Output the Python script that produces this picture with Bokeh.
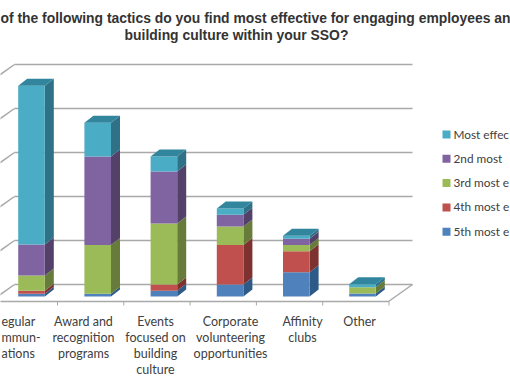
from bokeh.plotting import figure
from bokeh.models import Range1d
from bokeh.core.properties import value
from bokeh.embed import file_html
from bokeh.resources import INLINE

categories = ["egular\nmmun-\nations", "Award and\nrecognition\nprograms",
              "Events\nfocused on\nbuilding\nculture", "Corporate\nvolunteering\nopportunities",
              "Affinity\nclubs", "Other"]
fifth = [0.6, 0.6, 1.3, 2.7, 5.5, 0.7]
fourth = [0.7, 0.0, 1.4, 9.0, 4.8, 0.0]
third = [3.5, 11.1, 13.9, 4.2, 1.4, 1.4]
second = [7.0, 20.1, 11.8, 2.7, 1.4, 0.0]
most = [36.1, 7.7, 3.4, 1.4, 0.7, 0.7]
series_names = ["5th most e", "4th most e", "3rd most e", "2nd most", "Most effec"]
series_values = [fifth, fourth, third, second, most]
grid_values = [0, 10, 20, 30, 40, 50]
front_colors = ["#4F81BD", "#C0504D", "#9BBB59", "#8064A2", "#4BACC6"]
side_colors = ["#2E5A88", "#7E322F", "#677C3A", "#534169", "#2F7288"]
top_colors = ["#37658F", "#8E3A37", "#76903F", "#5F4A7A", "#31859C"]
title_lines = ["of the following tactics do you find most effective for engaging employees an",
               "building culture within your SSO?"]

W, H = 510, 382
PAD = 0
X0, XU = 31.0, 66.2      # page px of category 0, px per category
Y0, YU = 296.0, 4.4      # page px of value 0, px per value unit


def X(px):
    return (px - X0) / XU


def Y(py):
    return (Y0 - py) / YU


p = figure(width=W, height=H, output_backend="svg", toolbar_location=None,
           x_range=Range1d(X(PAD), X(PAD + W)), y_range=Range1d(Y(PAD + H), Y(PAD)),
           min_border=0, outline_line_color=None, background_fill_color="white")
p.axis.visible = False
p.grid.visible = False

GRID = "#A9A9A9"
back_off = (296 - 284) / YU
wall_dx = 24 / XU
wall_dy = 17 / YU
left_back = X(14)
right_back = X(412)
p.segment(x0=[left_back] * 6, x1=[right_back] * 6,
          y0=[v + back_off for v in grid_values], y1=[v + back_off for v in grid_values],
          line_color=GRID, line_width=1.5)
p.segment(x0=[left_back] * 6, x1=[left_back - wall_dx] * 6,
          y0=[v + back_off for v in grid_values], y1=[v + back_off - wall_dy for v in grid_values],
          line_color=GRID, line_width=1.5)
front_y = back_off - wall_dy
p.line(x=[left_back - wall_dx, right_back - wall_dx, right_back],
       y=[front_y, front_y, back_off], line_color=GRID, line_width=1.5)
tick_x = [X(57) + i * 66.3 / XU for i in range(6)]
p.segment(x0=tick_x, x1=tick_x, y0=[front_y] * 6, y1=[front_y - 4 / YU] * 6,
          line_color=GRID, line_width=1)

half = 13.3 / XU
dx = 9 / XU
dy = 7 / YU
for i in range(len(categories)):
    base = 0.0
    for s, vals in enumerate(series_values):
        v = vals[i]
        if v <= 0:
            continue
        top = base + v
        p.patch(x=[i + half, i + half + dx, i + half + dx, i + half],
                y=[base, base + dy, top + dy, top], fill_color=side_colors[s], line_color=None)
        p.quad(left=i - half, right=i + half, bottom=base, top=top,
               fill_color=front_colors[s], line_color=None)
        base = top
    p.patch(x=[i - half, i + half, i + half + dx, i - half + dx],
            y=[base, base, base + dy, base + dy], fill_color=top_colors[4], line_color=None)

# first label is cut by the picture edge in the reference: left aligned at the edge
p.text(x=[X(1)], y=[Y(313)], text=categories[:1],
       text_font=value("Lato"), text_font_size="12.5px", text_color="#404040",
       text_align="left", text_baseline="top", text_line_height=1.08)
label_px = [83, 155, 230, 302, 359]
p.text(x=[X(a) for a in label_px], y=[Y(313)] * 5, text=categories[1:],
       text_font=value("Lato"), text_font_size="12.5px", text_color="#404040",
       text_align="center", text_baseline="top", text_line_height=1.08)

p.text(x=[X(255), X(236)], y=[Y(17), Y(34)], text=title_lines,
       text_font=value("Liberation Sans"), text_font_style="bold", text_font_size="13.9px",
       text_color="#333333", text_align="center", text_baseline="middle")

for k, s in enumerate(reversed(range(5))):
    cy = 134 + 24.3 * k
    p.quad(left=X(442), right=X(450), bottom=Y(cy + 4), top=Y(cy - 4),
           fill_color=front_colors[s], line_color=None)
    p.text(x=[X(453)], y=[Y(cy - 0.5)], text=[series_names[s]],
           text_font=value("Lato"), text_font_size="11.8px", text_color="#404040",
           text_align="left", text_baseline="middle")

open("out.html", "w").write(file_html(p, INLINE))
